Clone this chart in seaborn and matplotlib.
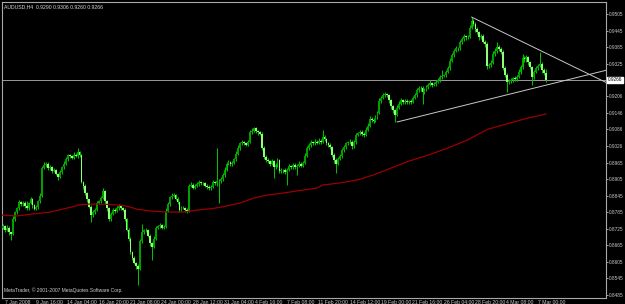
import matplotlib
matplotlib.use("Agg")
import matplotlib.pyplot as plt
import matplotlib.transforms as mtrans
from matplotlib import font_manager
import seaborn as sns
import numpy as np

# ---------------- data (prices in pips: 8730 -> 0.8730) ----------------
first_open = 8730
closes = [
    8735, 8722, 8730, 8712, 8705, 8760, 8785, 8800, 8822, 8815,
    8820, 8808, 8800, 8818, 8832, 8810, 8798, 8805, 8825, 8845,
    8945, 8958, 8962, 8945, 8950, 8936, 8940, 8925, 8912, 8930,
    8948, 8962, 8980, 8992, 8988, 8984, 8995, 8990, 9003, 8992,
    8895, 8880, 8855, 8832, 8806, 8775, 8785, 8795, 8818, 8825,
    8838, 8862, 8825, 8800, 8760, 8778, 8795, 8790, 8800, 8808,
    8802, 8795, 8760, 8722, 8690, 8640, 8620, 8602, 8590, 8580,
    8680, 8712, 8720, 8722, 8700, 8672, 8660, 8690, 8728, 8735,
    8740, 8730, 8732, 8790, 8815, 8840, 8846, 8848, 8835, 8822,
    8795, 8802, 8801, 8795, 8790, 8880, 8885, 8875, 8882, 8888,
    8895, 8890, 8890, 8882, 8876, 8872, 8878, 8895, 8890, 8900,
    8898, 8905, 8920, 8940, 8962, 8968, 8960, 8965, 8978, 8998,
    9020, 9035, 9040, 9036, 9030, 9042, 9075, 9082, 9090, 9080,
    9075, 9070, 9020, 8985, 8975, 8970, 8962, 8970, 8950, 8958,
    8975, 8935, 8940, 8938, 8932, 8940, 8952, 8948, 8958, 8950,
    8955, 8962, 8955, 8965, 8990, 9018, 9030, 9040, 9036, 9042,
    9038, 9045, 9040, 9060, 9050, 9036, 9030, 9022, 8995, 8975,
    8962, 8980, 8988, 9010, 9022, 9035, 9040, 9042, 9025, 9040,
    9065, 9072, 9078, 9070, 9066, 9085, 9100, 9125, 9120, 9118,
    9130, 9145, 9190, 9200, 9210, 9215, 9212, 9192, 9170, 9155,
    9140, 9165, 9180, 9192, 9185, 9190, 9184, 9188, 9186, 9200,
    9210, 9228, 9235, 9238, 9222, 9230, 9240, 9248, 9255, 9248,
    9252, 9258, 9265, 9276, 9280, 9283, 9295, 9308, 9335, 9355,
    9372, 9380, 9380, 9402, 9415, 9424, 9420, 9422, 9456, 9480,
    9470, 9450, 9438, 9420, 9425, 9405, 9395, 9315, 9320, 9328,
    9360, 9372, 9385, 9378, 9368, 9310, 9285, 9258, 9262, 9266,
    9272, 9268, 9278, 9295, 9312, 9345, 9340, 9348, 9330, 9312,
    9275, 9295, 9308, 9318, 9325, 9300, 9290, 9266,
]
upper_wick = [
    6, 4, 8, 5, 3, 10, 6, 5, 8, 4,
    5, 7, 20, 6, 8, 4, 5, 7, 6, 9,
    8, 10, 6, 4, 7, 5, 6, 3, 4, 8,
    6, 9, 7, 5, 4, 6, 8, 4, 16, 5,
    6, 4, 8, 5, 3, 6, 7, 4, 9, 5,
    8, 10, 5, 4, 6, 7, 5, 4, 8, 6,
    5, 4, 6, 3, 5, 4, 6, 5, 4, 7,
    8, 30, 6, 5, 4, 7, 5, 9, 6, 5,
    7, 4, 6, 9, 8, 6, 10, 7, 5, 4,
    6, 5, 7, 4, 6, 8, 9, 5, 6, 7,
    8, 5, 6, 4, 5, 7, 6, 8, 5, 119,
    6, 8, 7, 9, 6, 8, 5, 7, 6, 8,
    9, 6, 8, 5, 6, 7, 10, 8, 5, 6,
    5, 4, 6, 5, 7, 6, 4, 8, 5, 6,
    9, 5, 6, 4, 7, 5, 8, 6, 7, 5,
    6, 8, 5, 7, 9, 8, 6, 7, 5, 8,
    6, 9, 5, 24, 6, 5, 4, 6, 5, 4,
    6, 7, 8, 9, 6, 7, 5, 8, 6, 9,
    8, 6, 7, 5, 6, 9, 8, 10, 6, 7,
    8, 9, 10, 7, 8, 6, 5, 4, 6, 5,
    6, 8, 9, 7, 5, 6, 8, 6, 7, 9,
    8, 10, 7, 6, 5, 7, 8, 6, 9, 5,
    7, 6, 8, 9, 20, 6, 8, 10, 9, 8,
    7, 9, 6, 10, 8, 9, 6, 7, 10, 14,
    8, 6, 7, 5, 9, 6, 5, 8, 7, 9,
    10, 8, 18, 6, 7, 5, 6, 5, 8, 7,
    6, 9, 7, 10, 8, 15, 9, 7, 6, 5,
    6, 8, 9, 7, 42, 6, 8, 16,
]
lower_wick = [
    5, 8, 6, 10, 20, 4, 6, 5, 7, 6,
    8, 6, 5, 7, 4, 9, 6, 5, 7, 5,
    6, 4, 8, 6, 5, 7, 5, 6, 9, 4,
    5, 6, 4, 7, 5, 6, 4, 5, 6, 7,
    5, 9, 7, 8, 6, 25, 7, 5, 6, 4,
    6, 5, 8, 9, 6, 5, 4, 7, 5, 6,
    7, 5, 8, 6, 9, 7, 8, 6, 10, 59,
    6, 5, 7, 8, 6, 9, 48, 5, 6, 4,
    5, 7, 6, 5, 4, 6, 5, 7, 6, 8,
    7, 6, 5, 8, 6, 5, 4, 7, 6, 5,
    6, 7, 5, 6, 8, 5, 7, 4, 6, 9,
    79, 6, 5, 7, 4, 6, 8, 5, 4, 6,
    5, 7, 6, 8, 5, 4, 6, 5, 7, 6,
    8, 6, 9, 7, 8, 6, 7, 5, 40, 6,
    7, 8, 6, 9, 7, 48, 6, 5, 7, 6,
    30, 5, 7, 6, 4, 5, 6, 7, 8, 5,
    6, 5, 7, 4, 6, 8, 7, 6, 9, 10,
    34, 6, 5, 4, 7, 6, 5, 8, 9, 5,
    6, 4, 7, 8, 6, 5, 4, 6, 8, 7,
    5, 6, 4, 7, 5, 6, 8, 9, 10, 8,
    27, 7, 6, 5, 8, 6, 7, 5, 6, 4,
    5, 6, 7, 8, 45, 6, 5, 7, 6, 8,
    6, 7, 5, 6, 7, 5, 6, 4, 5, 6,
    7, 5, 8, 6, 5, 7, 9, 6, 5, 6,
    7, 9, 6, 8, 5, 7, 8, 10, 7, 6,
    5, 6, 7, 8, 9, 10, 8, 36, 7, 6,
    8, 7, 6, 5, 6, 7, 8, 9, 10, 8,
    28, 6, 5, 7, 6, 8, 7, 6,
]

# 200-period moving average, read at a few bars
ma_bars = [-1, 0, 7, 15, 24, 33, 39, 44, 50, 58, 63, 68, 75, 84, 92, 100, 107,
           112, 121, 128, 135, 143, 151, 160, 163, 172, 181, 189, 198, 207,
           217, 227, 237, 247, 257, 267, 277]
ma_vals = [0.8775, 0.8775, 0.8772, 0.8779, 0.8786, 0.8801, 0.8812, 0.8815,
           0.8815, 0.8812, 0.8808, 0.8797, 0.8790, 0.8786, 0.8786, 0.8794,
           0.8799, 0.8805, 0.8819, 0.8837, 0.8848, 0.8855, 0.8864, 0.8873,
           0.8884, 0.8892, 0.8903, 0.8921, 0.8946, 0.8971, 0.8993, 0.9019,
           0.9048, 0.9086, 0.9106, 0.9126, 0.9142]

# trend lines (anchor bars / prices)
upper_bars = [239, 308.2]
upper_vals = [0.9494, 0.92545]
lower_bars = [201, 308.2]
lower_vals = [0.9113, 0.93017]

price_ticks = [0.9505, 0.9445, 0.9385, 0.9325, 0.9206, 0.9146, 0.9086, 0.9026,
               0.8965, 0.8905, 0.8845, 0.8785, 0.8725, 0.8665, 0.8605, 0.8545,
               0.8485]
current_price = 0.9266
time_labels = ["7 Jan 2008", "9 Jan 16:00", "14 Jan 04:00", "16 Jan 20:00",
               "21 Jan 08:00", "24 Jan 00:00", "28 Jan 12:00", "31 Jan 04:00",
               "4 Feb 16:00", "7 Feb 08:00", "11 Feb 20:00", "14 Feb 12:00",
               "19 Feb 00:00", "21 Feb 16:00", "26 Feb 04:00", "28 Feb 20:00",
               "4 Mar 08:00", "7 Mar 00:00"]
time_label_bars = [0, 16, 32, 48, 64, 80, 96, 112, 128, 144, 160, 176, 192,
                   208, 224, 240, 256, 272]
title = "AUDUSD,H4  0.9290 0.9306 0.9260 0.9266"
copyright_txt = "MetaTrader, \u00a9 2001-2007 MetaQuotes Software Corp."

# ---------------- derived OHLC ----------------
c = np.array(closes) / 10000.0
o = np.array([first_open] + closes[:-1]) / 10000.0
h = np.maximum(o, c) + np.array(upper_wick) / 10000.0
l = np.minimum(o, c) - np.array(lower_wick) / 10000.0
idx = np.arange(len(c))
up = c >= o

# ---------------- style ----------------
sns.set_theme(style="dark", rc={
    "axes.facecolor": "black", "figure.facecolor": "black",
    "axes.edgecolor": "#a0a0a0", "text.color": "#d8d8d8",
    "xtick.color": "#c0c0c0", "ytick.color": "#c0c0c0",
    "axes.grid": False,
})
names = {f.name for f in font_manager.fontManager.ttflist}
if "Liberation Sans Narrow" in names:
    FAM = ["Liberation Sans Narrow", "DejaVu Sans"]
    FS = 4.4
    FSY = 4.1
else:
    FAM = ["Liberation Sans", "DejaVu Sans"]
    FS = 3.7
    FSY = 3.4
plt.rcParams["font.family"] = FAM

W, H = 625, 304
fig = plt.figure(figsize=(W / 100, H / 100), dpi=100)
ax = fig.add_axes([2 / W, 6 / H, 604 / W, 296 / H])
ax.set_facecolor("black")

# wicks
ax.vlines(idx, l, h, colors="#00c000", linewidth=0.75, zorder=2)
# bodies
body_lo = np.minimum(o, c)
body_h = np.maximum(np.abs(c - o), 0.00008)
ax.bar(idx[up], body_h[up], bottom=body_lo[up], width=0.95,
       color="#00a000", edgecolor="none", zorder=3)
ax.bar(idx[~up], body_h[~up], bottom=body_lo[~up], width=0.95,
       color="#90ff78", edgecolor="none", zorder=3)

# moving average
sns.lineplot(x=ma_bars, y=ma_vals, color="#9a0000", linewidth=0.9, ax=ax,
             zorder=4)
# trend lines
sns.lineplot(x=upper_bars, y=upper_vals, color="#c8c8c8", linewidth=0.7,
             ax=ax, zorder=5)
sns.lineplot(x=lower_bars, y=lower_vals, color="#c8c8c8", linewidth=0.7,
             ax=ax, zorder=5)
# current price line
ax.axhline(current_price, color="#9a9a9a", linewidth=0.7, zorder=1)

ax.set_xlim(-0.55, 307.6)
ax.set_ylim(0.84741, 0.95486)

for s in ax.spines.values():
    s.set_color("#a8a8a8")
    s.set_linewidth(0.8)

ax.yaxis.tick_right()
ax.set_yticks(price_ticks)
ax.set_yticklabels([f"{p:.4f}" for p in price_ticks])
ax.tick_params(axis="y", length=1.5, width=0.6, pad=0.8, labelsize=FSY,
               labelcolor="#c8c8c8", direction="out")
ax.set_xticks(time_label_bars)
ax.set_xticklabels(time_labels, ha="left", va="top")
ax.tick_params(axis="x", length=3, width=0.6, pad=-1.5, labelsize=FS,
               labelcolor="#c8c8c8", direction="out")
offset = mtrans.ScaledTranslation(1.5 / 100, 0, fig.dpi_scale_trans)
for lab in ax.get_xticklabels():
    lab.set_transform(lab.get_transform() + offset)
ax.set_xlabel("")
ax.set_ylabel("")

# current price label box
ax.text(1.0035, current_price, f"{current_price:.4f}",
        transform=ax.get_yaxis_transform(),
        ha="left", va="center", fontsize=FSY, color="black",
        bbox=dict(boxstyle="square,pad=0.15", fc="white", ec="white"),
        clip_on=False, zorder=10)

# title and copyright
fig.text(4 / W, 1 - 7 / H, title, fontsize=FS, color="#d8d8d8",
         ha="left", va="center")
fig.text(4 / W, 1 - 290 / H, copyright_txt, fontsize=FS * 0.95,
         color="#d0d0d0", ha="left", va="center")

fig.savefig("out.png", dpi=100, facecolor="black")
